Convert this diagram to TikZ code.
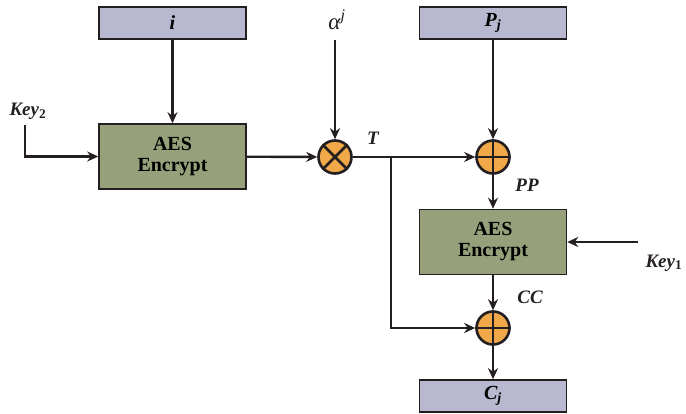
\documentclass[tikz,border=0pt]{standalone}
\usepackage{fontspec}
\setmainfont{Liberation Serif}
\usetikzlibrary{arrows.meta}
\definecolor{lav}{HTML}{B8B8D0}
\definecolor{grn}{HTML}{96A07A}
\definecolor{org}{HTML}{F0A848}
\definecolor{ink}{HTML}{231F20}
\begin{document}
\begin{tikzpicture}[x=1pt,y=-1pt,
  line width=2.4pt, draw=ink,
  arr/.style={draw=ink,line width=2.4pt,-{Stealth[length=11pt,width=10pt]}},
  inbox/.style={draw=ink,line width=1.6pt,fill=lav,minimum width=147pt,minimum height=32pt,inner sep=0pt,font=\fontsize{20}{22}\selectfont\bfseries\itshape},
  aesbox/.style={draw=ink,line width=1.6pt,fill=grn,minimum width=147pt,minimum height=65pt,inner sep=0pt,align=center,font=\fontsize{20}{21}\selectfont\bfseries},
  opc/.style={circle,draw=ink,line width=2.6pt,fill=org,minimum size=33pt,inner sep=0pt},
  lbl/.style={font=\fontsize{19}{21}\selectfont\bfseries\itshape,text=ink}]
\useasboundingbox (0,0) rectangle (686,414);
\node[inbox] (i) at (172.5,23) {i};
\node[aesbox] (aes1) at (172.5,156.5) {AES\\Encrypt};
\node[opc] (mul) at (335,157) {};
\draw[line width=2.6pt] (mul.north west) -- (mul.south east) (mul.north east) -- (mul.south west);
\node[text=ink,font=\fontsize{23}{25}\selectfont\itshape] (alpha) at (337,20) {α\textsuperscript{j}};
\coordinate (alphaend) at (335,40);
\node[lbl,anchor=south west] (key2) at (5,124) {Key\textsubscript{\upshape 2}};
\coordinate (k2start) at (25,125);

\node[inbox] (pj) at (493,23) {P\textsubscript{j}};
\node[opc] (x1) at (493,157) {};
\draw[line width=2.6pt] (x1.north) -- (x1.south) (x1.west) -- (x1.east);
\node[aesbox] (aes2) at (493,242) {AES\\Encrypt};
\node[opc] (x2) at (493,328) {};
\draw[line width=2.6pt] (x2.north) -- (x2.south) (x2.west) -- (x2.east);
\node[inbox] (cj) at (493,396) {C\textsubscript{j}};

\node[lbl] (T) at (373,138) {T};
\node[lbl] (PP) at (527,185) {PP};
\node[lbl] (CC) at (530,297) {CC};
\node[lbl,anchor=west] (key1) at (641,263) {Key\textsubscript{\upshape 1}};
\coordinate (k1start) at (638,242);
\coordinate (branch) at (391,157);
\coordinate (corner) at (391,328);

\draw[arr] (i) -- (aes1);
\draw[arr] (k2start) |- (aes1.west);
\draw[arr] (aes1) -- (mul);
\draw[arr] (alphaend) -- (mul);
\draw[arr] (mul) -- (x1);
\draw[arr] (pj) -- (x1);
\draw[arr] (x1) -- (aes2);
\draw[arr] (k1start) -- (aes2.east);
\draw[arr] (aes2) -- (x2);
\draw[arr] (branch) -- (corner) -- (x2);
\draw[arr] (x2) -- (cj);
\end{tikzpicture}
\end{document}
